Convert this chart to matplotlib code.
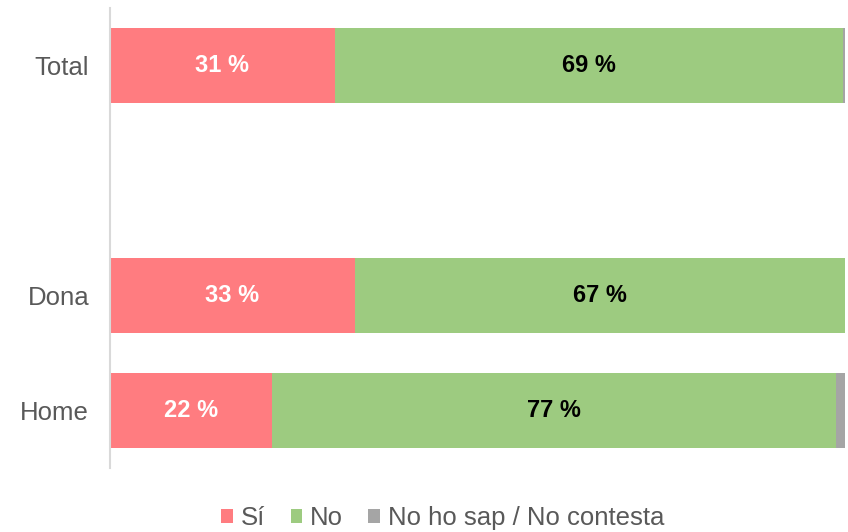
import numpy as np
from matplotlib import pyplot as plt

plt.rcParams['font.family'] = ['Liberation Sans', 'DejaVu Sans']

# Data
categories = ['Total', '', 'Dona', 'Home']
si = [30.6, 0, 33.3, 22.0]
no = [69.1, 0, 66.7, 76.8]
nsnc = [0.3, 0, 0.0, 1.2]
series_names = ['Sí', 'No', 'No ho sap / No contesta']
colors = ['#FF7C80', '#9DCB80', '#A5A5A5']
label_colors = ['white', 'black', None]

fig = plt.figure(figsize=(8.48, 5.32), dpi=100)
ax = fig.add_axes([110/848, 1 - 468/532, 735/848, 460/532])

y = np.arange(len(categories))
left = np.zeros(len(categories))
for vals, name, col, lc in zip([si, no, nsnc], series_names, colors, label_colors):
    vals = np.array(vals)
    ax.barh(y, vals, left=left, height=0.66, color=col, label=name)
    if lc is not None:
        for yi, v, l in zip(y, vals, left):
            if v > 0:
                ax.text(l + v / 2, yi, f"{round(v):.0f} %", ha='center', va='center',
                        color=lc, fontsize=17, fontweight='bold')
    left = left + vals

ax.set_xlim(0, 100)
ax.set_ylim(3.5, -0.5)
ax.set_yticks(y)
ax.set_yticklabels(categories, fontsize=18.5, color='#595959')
ax.set_xticks([])
ax.tick_params(axis='y', length=0, pad=15)
for s in ['top', 'right', 'bottom']:
    ax.spines[s].set_visible(False)
ax.spines['left'].set_color('#D9D9D9')
ax.spines['left'].set_linewidth(1.5)

leg = fig.legend(loc='lower center', ncol=3, frameon=False, fontsize=18.5,
                 handlelength=0.45, handleheight=0.45, handletextpad=0.3,
                 columnspacing=1.0, bbox_to_anchor=(0.522, -0.04))
for t in leg.get_texts():
    t.set_color('#595959')

fig.savefig('out.png', dpi=100)
